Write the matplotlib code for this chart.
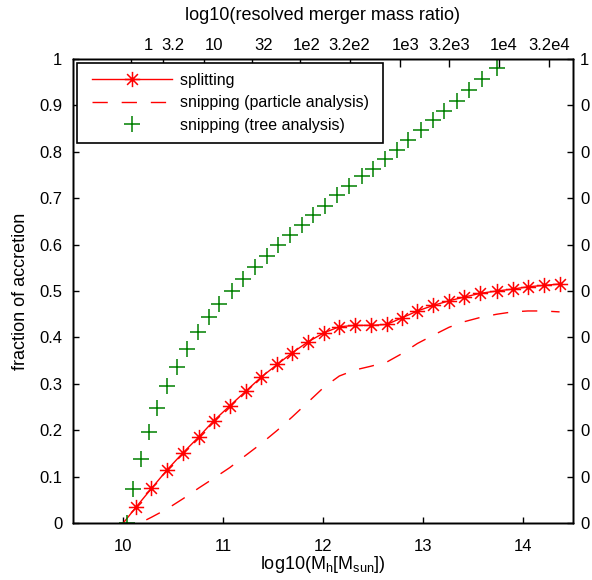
import matplotlib
matplotlib.use("Agg")
import matplotlib.pyplot as plt
from matplotlib.path import Path
from matplotlib.markers import MarkerStyle
from matplotlib.legend_handler import HandlerLine2D

plt.rcParams["font.family"] = ["Liberation Sans", "DejaVu Sans"]
plt.rcParams["mathtext.fontset"] = "custom"
plt.rcParams["mathtext.rm"] = "Liberation Sans"
plt.rcParams["mathtext.it"] = "Liberation Sans"

# data
mass_x = [9.973, 10.13, 10.287, 10.443, 10.603, 10.76, 10.91, 11.07, 11.227, 11.38,
          11.543, 11.693, 11.847, 12.01, 12.163, 12.32, 12.477, 12.637, 12.787, 12.943,
          13.103, 13.26, 13.413, 13.57, 13.737, 13.893, 14.047, 14.203, 14.363]
splitting = [-0.008, 0.034, 0.075, 0.115, 0.152, 0.186, 0.221, 0.253, 0.284, 0.314,
             0.342, 0.367, 0.390, 0.410, 0.423, 0.426, 0.426, 0.428, 0.442, 0.457,
             0.469, 0.479, 0.487, 0.495, 0.500, 0.504, 0.509, 0.512, 0.515]
snip_particle = [-0.02, -0.004, 0.013, 0.031, 0.053, 0.076, 0.097, 0.120, 0.146, 0.171,
                 0.200, 0.229, 0.260, 0.293, 0.317, 0.330, 0.338, 0.347, 0.365, 0.387,
                 0.405, 0.422, 0.434, 0.443, 0.450, 0.455, 0.457, 0.457, 0.455]

tree_x = [10.046, 10.106, 10.18, 10.263, 10.346, 10.44, 10.54, 10.643, 10.75, 10.857,
          10.96, 11.087, 11.203, 11.32, 11.437, 11.553, 11.67, 11.787, 11.905, 12.02,
          12.143, 12.263, 12.387, 12.503, 12.62, 12.737, 12.853, 12.977, 13.097, 13.21,
          13.337, 13.463, 13.587, 13.737]
snip_tree = [0.0, 0.073, 0.138, 0.197, 0.248, 0.295, 0.337, 0.376, 0.411, 0.444,
             0.473, 0.500, 0.525, 0.552, 0.576, 0.598, 0.620, 0.642, 0.663, 0.683,
             0.706, 0.726, 0.747, 0.763, 0.785, 0.804, 0.826, 0.846, 0.867, 0.887,
             0.910, 0.933, 0.957, 0.981]

top_ticks = [10.083, 10.398, 10.816, 11.29, 11.773, 12.273, 12.766, 13.258, 13.753, 14.253]
top_label_pos = [10.256, 10.50, 10.916, 11.406, 11.84, 12.263, 12.823, 13.256, 13.806, 14.256]
top_labels = ["1", "3.2", "10", "32", "1e2", "3.2e2", "1e3", "3.2e3", "1e4", "3.2e4"]

y_ticks = [0, 0.1, 0.2, 0.3, 0.4, 0.5, 0.6, 0.7, 0.8, 0.9, 1]
left_labels = ["0", "0.1", "0.2", "0.3", "0.4", "0.5", "0.6", "0.7", "0.8", "0.9", "1"]
right_labels = ["0"] * 10 + ["1"]

# matlab style asterisk (+ and x together)
d = 0.7071
star = Path([(-1, 0), (1, 0), (0, -1), (0, 1), (-d, -d), (d, d), (-d, d), (d, -d)],
            [Path.MOVETO, Path.LINETO] * 4)

fs_tick = 12
fs_label = 13
fs_leg = 11.5

fig = plt.figure(figsize=(5.92, 5.80), dpi=100)
ax = fig.add_axes([0.1228, 0.0978, 0.8456, 0.801])

l1, = ax.plot(mass_x, splitting, color="red", lw=1.0, marker=MarkerStyle(star),
              markersize=11, markeredgewidth=1.1, markevery=slice(1, None),
              label="splitting ")
l2, = ax.plot(mass_x, snip_particle, color="red", lw=1.0, dashes=(11, 10),
              label="snipping (particle analysis) ")
l3, = ax.plot(tree_x, snip_tree, color="#008000", ls="none", marker="+",
              markersize=12, markeredgewidth=1.1, label="snipping (tree analysis) ")

ax.set_xlim(9.5, 14.5)
ax.set_ylim(0, 1)
ax.set_xticks([10, 11, 12, 13, 14])
ax.set_yticks(y_ticks, left_labels)
ax.tick_params(direction="in", length=4.5, width=1.0, labelsize=fs_tick,
               top=False, right=False)
ax.tick_params(axis="x", pad=11)
ax.tick_params(axis="y", pad=7.5)
ax.set_xlabel(r"log10(M$_\mathrm{h}$[M$_\mathrm{sun}$])", fontsize=fs_label, labelpad=0)
ax.set_ylabel("fraction of accretion", fontsize=fs_label, labelpad=7.5)

axr = ax.twinx()
axr.set_ylim(0, 1)
axr.set_yticks(y_ticks, right_labels)
axr.tick_params(direction="in", length=4.5, width=1.0, labelsize=fs_tick, pad=5)

axt = ax.twiny()
axt.set_xlim(9.5, 14.5)
axt.set_xticks(top_ticks, [""] * len(top_ticks))
axt.set_xticks(top_label_pos, top_labels, minor=True)
axt.tick_params(which="major", direction="in", length=5.5, width=1.0)
axt.tick_params(which="minor", length=0, labelsize=fs_tick, pad=4)
axt.set_xlabel("log10(resolved merger mass ratio)", fontsize=fs_label, labelpad=13)

for a in (ax, axr, axt):
    for s in a.spines.values():
        s.set_linewidth(1.0)

pad_handler = HandlerLine2D(xpad=0.36)
leg = axt.legend(handles=[l1, l2, l3], loc="upper left",
                 bbox_to_anchor=(0.008, 0.99), fontsize=fs_leg, frameon=True,
                 fancybox=False, framealpha=1, edgecolor="black",
                 handlelength=5.36, handletextpad=0.53, labelspacing=0.47,
                 borderpad=0.6, borderaxespad=0,
                 handler_map={l1: pad_handler, l2: pad_handler, l3: pad_handler})
leg.get_frame().set_linewidth(1.2)

fig.savefig("out.png", dpi=100)
plt.close(fig)
